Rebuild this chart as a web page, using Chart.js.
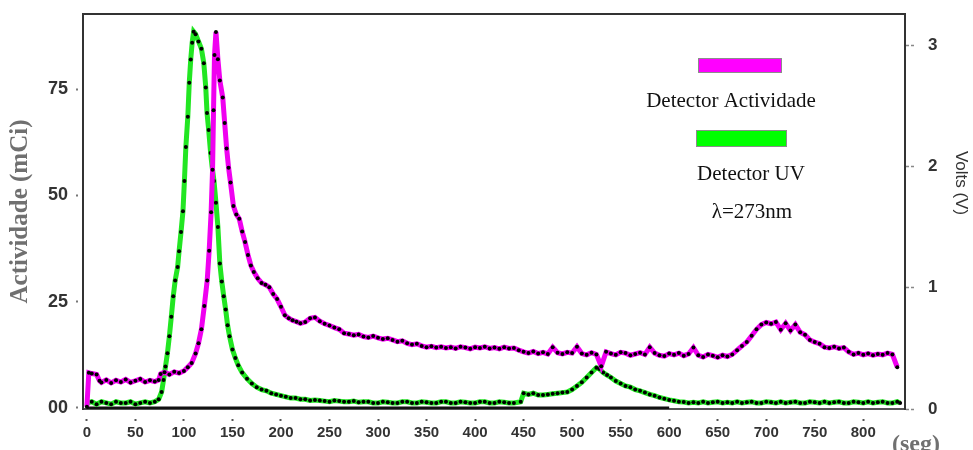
<!DOCTYPE html>
<html>
<head>
<meta charset="utf-8">
<script src="https://cdn.jsdelivr.net/npm/chart.js@4/dist/chart.umd.min.js"></script>
<style>
  html, body { margin: 0; padding: 0; background: #ffffff; }
  #wrap { width: 973px; height: 450px; }
</style>
</head>
<body>
<div id="wrap"><canvas id="chart" width="973" height="450"></canvas></div>
<script>
// Tick positions of the three axes
const timeTicks = [0, 50, 100, 150, 200, 250, 300, 350, 400, 450, 500, 550, 600, 650, 700, 750, 800];
const activityTicks = [0, 25, 50, 75];
const voltTicks = [0, 1, 2, 3];

// Radioactivity detector trace: time (s) and activity (mCi)
const activityTime = [
  0, 2, 5, 10, 13, 15, 20, 25, 30, 35, 40, 45, 50, 55, 60, 65, 70, 74, 76, 80,
  85, 90, 95, 100, 104, 108, 112, 115, 118, 121, 124, 126, 128, 129.5, 130.5, 131.5, 133, 135, 137, 140,
  142, 144, 146, 148, 151, 154, 157, 160, 163, 166, 169, 172, 176, 180, 184, 188, 192, 196, 200, 204,
  208, 212, 216, 220, 225, 230, 235, 240, 245, 250, 255, 260, 265, 270, 275, 280, 285, 290, 295, 300,
  305, 310, 315, 320, 325, 330, 335, 340, 345, 350, 355, 360, 365, 370, 375, 380, 385, 390, 395, 400,
  405, 410, 415, 420, 425, 430, 435, 440, 445, 450, 455, 460, 465, 470, 475, 480, 485, 490, 495, 500,
  505, 510, 515, 520, 525, 530, 535, 540, 545, 550, 555, 560, 565, 570, 575, 580, 585, 590, 595, 600,
  605, 610, 615, 620, 625, 630, 635, 640, 645, 650, 655, 660, 665, 670, 675, 680, 685, 690, 695, 700,
  705, 710, 715, 720, 725, 730, 735, 740, 745, 750, 755, 760, 765, 770, 775, 780, 785, 790, 795, 800,
  805, 810, 815, 820, 825, 830, 835
];
const activityMCi = [
  0.3, 8.3, 8.1, 7.9, 6.4, 6.0, 6.6, 5.9, 6.5, 6.1, 6.7, 6.0, 6.4, 6.8, 6.1, 6.5, 6.2, 6.6, 8.0, 8.4,
  7.9, 8.5, 8.2, 8.7, 9.6, 10.6, 12.8, 15.2, 18.5, 24, 30, 37, 46, 56, 70, 83, 88.4, 82, 77, 73,
  67, 61, 56.5, 53, 47.5, 45.5, 44.5, 41.5, 39, 36, 33.5, 32, 30.5, 29.4, 29, 28.4, 26.8, 25.6, 23.8, 21.8,
  21.1, 20.6, 20.3, 19.9, 20.2, 21.1, 21.3, 20.4, 19.8, 19.4, 18.9, 18.5, 17.6, 17.4, 17.1, 17.3, 16.8, 16.6, 16.9, 16.5,
  16.2, 16.4, 16.0, 15.6, 15.8, 15.2, 14.9, 15.1, 14.6, 14.3, 14.5, 14.2, 14.4, 14.1, 14.3, 14.0, 14.4, 14.2, 13.9, 14.3,
  14.1, 14.4, 14.0, 14.2, 13.9, 14.3, 14.0, 14.1, 13.6, 13.2, 12.9, 13.3, 12.8, 13.1, 12.7, 14.3, 13.0, 12.7, 13.1, 12.9,
  14.4, 12.8, 12.5, 13.0, 12.6, 9.8, 13.2, 12.8, 12.5, 13.1, 12.9, 12.4, 12.7, 13.0, 12.6, 14.3, 12.9, 12.4, 12.2, 12.8,
  12.5, 12.9, 12.3, 12.7, 14.2, 12.4, 12.0, 12.6, 12.3, 11.9, 12.4, 12.1, 12.6, 13.6, 14.6, 15.5, 17.0, 18.5, 19.6, 20.1,
  19.8, 20.2, 18.4, 19.9, 18.2, 19.6, 17.8, 17.2, 16.0, 15.5, 15.1, 14.3, 14.1, 14.4, 14.0, 14.2, 13.2, 12.6, 12.9, 12.5,
  12.8, 12.4, 12.7, 12.5, 12.9, 12.6, 9.6
];

// UV detector trace (273 nm): time (s) and signal (V)
const uvTime = [
  0, 5, 10, 15, 20, 25, 30, 35, 40, 45, 50, 55, 60, 65, 70, 74, 77, 79, 81, 83,
  85, 87, 89, 91, 93.5, 95, 97, 99, 100.5, 102, 104, 105.5, 107, 108.5, 110, 112, 115, 118, 120.5, 122.5,
  123.8, 125.5, 127.5, 129, 131, 133, 135, 137, 139, 141, 143, 145, 147, 150, 153, 156, 160, 165, 170, 175,
  180, 185, 190, 195, 200, 205, 210, 215, 220, 225, 230, 235, 240, 245, 250, 255, 260, 265, 270, 275,
  280, 285, 290, 295, 300, 305, 310, 315, 320, 325, 330, 335, 340, 345, 350, 355, 360, 365, 370, 375,
  380, 385, 390, 395, 400, 405, 410, 415, 420, 425, 430, 435, 440, 447, 450, 455, 460, 465, 470, 475,
  480, 485, 490, 495, 500, 505, 510, 515, 520, 525, 528, 532, 536, 540, 545, 550, 555, 560, 565, 570,
  575, 580, 585, 590, 595, 600, 605, 610, 615, 620, 625, 630, 635, 640, 645, 650, 655, 660, 665, 670,
  675, 680, 685, 690, 695, 700, 705, 710, 715, 720, 725, 730, 735, 740, 745, 750, 755, 760, 765, 770,
  775, 780, 785, 790, 795, 800, 805, 810, 815, 820, 825, 830, 835, 838
];
const uvVolts = [
  0.05, 0.06, 0.04, 0.06, 0.05, 0.04, 0.06, 0.05, 0.05, 0.06, 0.04, 0.05, 0.06, 0.05, 0.06, 0.08, 0.14, 0.24, 0.35, 0.46,
  0.60, 0.76, 0.93, 1.06, 1.17, 1.30, 1.46, 1.63, 1.88, 2.16, 2.41, 2.69, 2.88, 3.02, 3.11, 3.09, 3.03, 2.97, 2.85, 2.65,
  2.44, 2.30, 2.11, 2.00, 1.88, 1.70, 1.50, 1.20, 1.05, 0.93, 0.82, 0.69, 0.60, 0.49, 0.42, 0.36, 0.30, 0.25, 0.21, 0.18,
  0.16, 0.15, 0.13, 0.12, 0.11, 0.10, 0.09, 0.09, 0.08, 0.08, 0.07, 0.075, 0.07, 0.065, 0.06, 0.07, 0.065, 0.06, 0.06, 0.065,
  0.055, 0.06, 0.06, 0.05, 0.05, 0.06, 0.055, 0.05, 0.05, 0.06, 0.06, 0.05, 0.05, 0.06, 0.055, 0.05, 0.05, 0.06, 0.06, 0.05,
  0.05, 0.06, 0.055, 0.05, 0.05, 0.06, 0.06, 0.05, 0.05, 0.06, 0.055, 0.05, 0.05, 0.06, 0.13, 0.12, 0.13, 0.115, 0.115, 0.12,
  0.125, 0.13, 0.135, 0.14, 0.16, 0.19, 0.22, 0.26, 0.30, 0.34, 0.33, 0.30, 0.28, 0.26, 0.23, 0.21, 0.19, 0.18, 0.16, 0.15,
  0.135, 0.12, 0.11, 0.095, 0.085, 0.075, 0.068, 0.06, 0.058, 0.05, 0.055, 0.05, 0.06, 0.05, 0.055, 0.06, 0.05, 0.055, 0.05, 0.06,
  0.05, 0.055, 0.06, 0.05, 0.05, 0.06, 0.055, 0.05, 0.06, 0.05, 0.055, 0.06, 0.05, 0.05, 0.06, 0.055, 0.05, 0.06, 0.05, 0.055,
  0.06, 0.05, 0.05, 0.06, 0.055, 0.05, 0.06, 0.05, 0.055, 0.06, 0.05, 0.05, 0.06, 0.05
];

// Recorder zero line under the traces
const zeroTime = [0, 600];
const zeroLevel = [0, 0];

const toPoints = (xs, ys) => xs.map((x, i) => ({ x: x, y: ys[i] }));

const tickFont = (size) => ({ family: "'Liberation Sans', Arial, sans-serif", size: size, weight: 'bold' });

// Fixed axis boxes, without the extra room Chart.js keeps for edge labels
const fixBox = (w, h) => (s) => {
  if (w !== null) s.width = w;
  if (h !== null) s.height = h;
  s.paddingTop = 0; s.paddingBottom = 0; s.paddingLeft = 0; s.paddingRight = 0;
};

// Frame top edge, free-standing legend, right axis caption and time unit
const decorations = {
  id: 'decorations',
  afterDraw(chart) {
    const { ctx, chartArea } = chart;
    ctx.save();
    ctx.strokeStyle = '#333333';
    ctx.lineWidth = 2;
    ctx.beginPath();
    ctx.moveTo(chartArea.left - 1, chartArea.top);
    ctx.lineTo(chartArea.right + 1, chartArea.top);
    ctx.stroke();

    const swatch = (x, y, w, h, fill) => {
      ctx.fillStyle = fill;
      ctx.fillRect(x, y, w, h);
      ctx.strokeStyle = '#8c8c8c';
      ctx.lineWidth = 1;
      ctx.strokeRect(x + 0.5, y + 0.5, w - 1, h - 1);
    };
    swatch(698, 58, 84, 15, '#ff00ff');
    swatch(696, 130, 91, 17, '#00ff00');

    ctx.fillStyle = '#111111';
    ctx.font = "21px 'Liberation Serif', 'Times New Roman', serif";
    ctx.textAlign = 'center';
    ctx.textBaseline = 'alphabetic';
    ctx.fillText('Detector Actividade', 731, 107);
    ctx.fillText('Detector UV', 751, 180);
    ctx.fillText('\u03BB=273nm', 752, 218);

    ctx.fillStyle = '#707070';
    ctx.font = "bold 24px 'Liberation Serif', 'Times New Roman', serif";
    ctx.textAlign = 'left';
    ctx.fillText('(seg)', 892, 451);

    // right axis caption, read top to bottom
    ctx.translate(961, 183);
    ctx.rotate(Math.PI / 2);
    ctx.fillStyle = '#333333';
    ctx.font = "17px 'Liberation Sans', Arial, sans-serif";
    ctx.textAlign = 'center';
    ctx.textBaseline = 'middle';
    ctx.fillText('Volts (V)', 0, 0);
    ctx.restore();
  }
};

new Chart(document.getElementById('chart'), {
  type: 'line',
  data: {
    datasets: [
      {
        label: 'Detector Actividade',
        data: toPoints(activityTime, activityMCi),
        yAxisID: 'yAct',
        borderColor: '#f000f0',
        borderWidth: 5,
        pointRadius: 2,
        pointBackgroundColor: '#000000',
        pointBorderWidth: 0,
        tension: 0
      },
      {
        label: 'Detector UV',
        data: toPoints(uvTime, uvVolts),
        yAxisID: 'yUV',
        borderColor: '#22e622',
        borderWidth: 5,
        pointRadius: 2,
        pointBackgroundColor: '#000000',
        pointBorderWidth: 0,
        tension: 0
      },
      {
        label: 'zero',
        data: toPoints(zeroTime, zeroLevel),
        yAxisID: 'yAct',
        borderColor: '#111111',
        borderWidth: 3,
        pointRadius: 0,
        tension: 0
      }
    ]
  },
  options: {
    responsive: false,
    animation: false,
    layout: { padding: { top: 14, left: 0, right: 0, bottom: 0 } },
    plugins: {
      legend: { display: false },
      tooltip: { enabled: false }
    },
    scales: {
      x: {
        type: 'linear',
        min: -4,
        max: 843,
        afterBuildTicks: (s) => { s.ticks = timeTicks.map(v => ({ value: v })); },
        afterFit: fixBox(null, 41),
        ticks: {
          font: tickFont(15),
          color: '#333333',
          padding: 3,
          maxRotation: 0,
          autoSkip: false
        },
        grid: {
          drawOnChartArea: false,
          drawTicks: true,
          tickLength: 12,
          tickWidth: 2,
          tickColor: '#555555',
          tickBorderDash: [2, 20],
          tickBorderDashOffset: 13
        },
        border: { display: true, color: '#555555', width: 2 }
      },
      yAct: {
        type: 'linear',
        position: 'left',
        min: -0.24,
        max: 92.64,
        afterBuildTicks: (s) => { s.ticks = activityTicks.map(v => ({ value: v })); },
        afterFit: fixBox(83, null),
        ticks: {
          font: tickFont(18),
          color: '#333333',
          padding: 8,
          callback: (v) => (v === 0 ? '00' : String(v))
        },
        grid: {
          drawOnChartArea: false,
          drawTicks: true,
          tickLength: 7,
          tickWidth: 2,
          tickColor: '#777777',
          tickBorderDash: [2, 20],
          tickBorderDashOffset: 0
        },
        border: { display: true, color: '#333333', width: 2 },
        title: {
          display: true,
          text: 'Actividade (mCi)',
          color: '#707070',
          font: { family: "'Liberation Serif', 'Times New Roman', serif", size: 25, weight: 'bold' },
          padding: { top: 6, bottom: 0 }
        }
      },
      yUV: {
        type: 'linear',
        position: 'right',
        min: 0,
        max: 3.256,
        afterBuildTicks: (s) => { s.ticks = voltTicks.map(v => ({ value: v })); },
        afterFit: fixBox(68, null),
        ticks: {
          font: tickFont(17),
          color: '#333333',
          padding: 13,
          callback: (v) => String(v)
        },
        grid: {
          drawOnChartArea: false,
          drawTicks: true,
          tickLength: 10,
          tickWidth: 1.5,
          tickColor: '#888888',
          tickBorderDash: [3, 2]
        },
        border: { display: true, color: '#333333', width: 2 }
      }
    }
  },
  plugins: [decorations]
});
</script>
</body>
</html>
